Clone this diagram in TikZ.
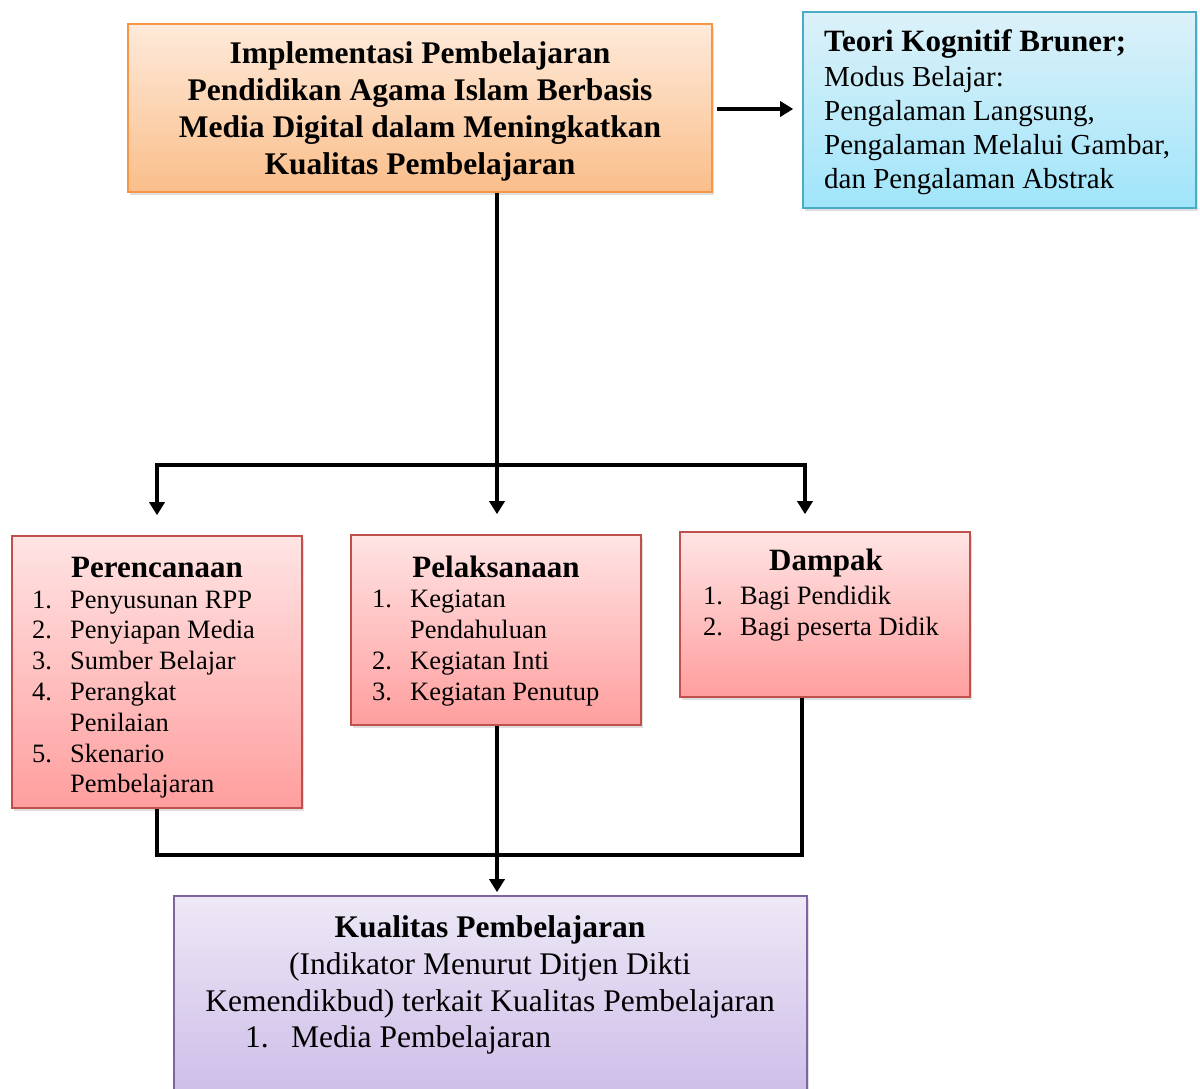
\documentclass[tikz,border=0pt]{standalone}
\usepackage{fontspec}
\setmainfont{Liberation Serif}
\usetikzlibrary{arrows.meta,shadows,calc}
\definecolor{orbd}{RGB}{247,150,70}
\definecolor{ortop}{RGB}{254,234,218}
\definecolor{orbot}{RGB}{250,190,138}
\definecolor{blbd}{RGB}{75,172,198}
\definecolor{bltop}{RGB}{220,241,249}
\definecolor{blbot}{RGB}{160,229,250}
\definecolor{rdbd}{RGB}{192,80,77}
\definecolor{rdtop}{RGB}{255,228,228}
\definecolor{rdbot}{RGB}{255,158,158}
\definecolor{pubd}{RGB}{128,100,162}
\definecolor{putop}{RGB}{238,232,246}
\definecolor{pubot}{RGB}{204,188,232}
\begin{document}
\begin{tikzpicture}[x=1pt,y=-1pt,
  box/.style={draw, line width=1.6pt, inner sep=0pt,
    drop shadow={opacity=0.25, shadow xshift=2pt, shadow yshift=-3pt}},
  obox/.style={box, draw=orbd, top color=ortop, bottom color=orbot},
  bbox/.style={box, draw=blbd, top color=bltop, bottom color=blbot},
  rbox/.style={box, draw=rdbd, top color=rdtop, bottom color=rdbot, minimum width=290pt},
  pbox/.style={box, draw=pubd, top color=putop, bottom color=pubot},
  conn/.style={line width=4.5pt, line join=miter, draw=black},
  arr/.style={conn, -{Triangle[width=15pt,length=13pt]}},
  btitle/.style={inner sep=0pt, font=\bfseries\fontsize{31.5}{37}\selectfont, align=center},
  body/.style={inner sep=0pt, font=\fontsize{29}{34}\selectfont, align=left},
  list/.style={inner sep=0pt, font=\fontsize{26.5}{30.8}\selectfont, align=left},
  ltitle/.style={inner sep=0pt, font=\bfseries\fontsize{31}{36}\selectfont}
]
\useasboundingbox (0,0) rectangle (1200,1088);

% boxes
\node[obox, minimum width=584pt, minimum height=168pt] (top) at (420,108) {};
\node[bbox, minimum width=393pt, minimum height=196pt] (bruner) at (999.5,110) {};
\node[rbox, minimum height=272pt] (plan) at (157,672) {};
\node[rbox, minimum height=190pt] (pel) at (496,630) {};
\node[rbox, minimum height=165pt] (dam) at (825,614.5) {};
\node[pbox, minimum width=633pt, minimum height=204pt] (kual) at (490.5,998) {};

% texts
\node[btitle] (toptext) at (420,111) {Implementasi Pembelajaran\\Pendidikan Agama Islam Berbasis\\Media Digital dalam Meningkatkan\\Kualitas Pembelajaran};

\node[body, anchor=west] (brunertext) at (824,112) {{\bfseries\fontsize{31}{36}\selectfont Teori Kognitif Bruner;}\\[1pt]
Modus Belajar:\\
Pengalaman Langsung,\\
Pengalaman Melalui Gambar,\\
dan Pengalaman Abstrak};

\node[ltitle] (plantitle) at (157,567) {Perencanaan};
\node[list, anchor=west] (planlist) at (32,694.5) {\makebox[38pt][l]{1.}Penyusunan RPP\\
\makebox[38pt][l]{2.}Penyiapan Media\\
\makebox[38pt][l]{3.}Sumber Belajar\\
\makebox[38pt][l]{4.}Perangkat\\
\hspace*{38pt}Penilaian\\
\makebox[38pt][l]{5.}Skenario\\
\hspace*{38pt}Pembelajaran};

\node[ltitle] (peltitle) at (496,567) {Pelaksanaan};
\node[list, anchor=west] (pellist) at (372,648) {\makebox[38pt][l]{1.}Kegiatan\\
\hspace*{38pt}Pendahuluan\\
\makebox[38pt][l]{2.}Kegiatan Inti\\
\makebox[38pt][l]{3.}Kegiatan Penutup};

\node[ltitle] (damtitle) at (826,563) {Dampak};
\node[list, anchor=west] (damlist) at (703,613.5) {\makebox[37pt][l]{1.}Bagi Pendidik\\
\makebox[37pt][l]{2.}Bagi peserta Didik};

\node[inner sep=0pt, align=center, font=\fontsize{31.5}{37}\selectfont] (kualtext) at (490,966.5) {{\bfseries Kualitas Pembelajaran}\\
(Indikator Menurut Ditjen Dikti\\
Kemendikbud) terkait Kualitas Pembelajaran};
\node[inner sep=0pt, anchor=west, font=\fontsize{31.5}{37}\selectfont] (kualitem) at (245,1040) {\makebox[46pt][l]{1.}Media Pembelajaran};

% connectors
\coordinate (jl) at (157,465);
\coordinate (jm) at (497,465);
\coordinate (jr) at (805,465);
\coordinate (bl) at (157,855);
\coordinate (br) at (802,855);

\draw[arr, shorten <=4pt, shorten >=9pt] (top.east |- 0,109) -- (bruner.west |- 0,109);
\draw[conn] (jm |- top.south) -- (jm);
\draw[conn, line cap=rect] (jl) -- (jr);
\draw[arr, shorten >=20pt] (jl) -- (jl |- plan.north);
\draw[arr, shorten >=20pt] (jm) -- (jm |- pel.north);
\draw[arr, shorten >=17pt] (jr) -- (jr |- dam.north);
\draw[conn] (plan.south) -- (bl) -- (br) -- (br |- dam.south);
\draw[arr, shorten >=3pt] (jm |- pel.south) -- (jm |- kual.north);
\end{tikzpicture}
\end{document}
